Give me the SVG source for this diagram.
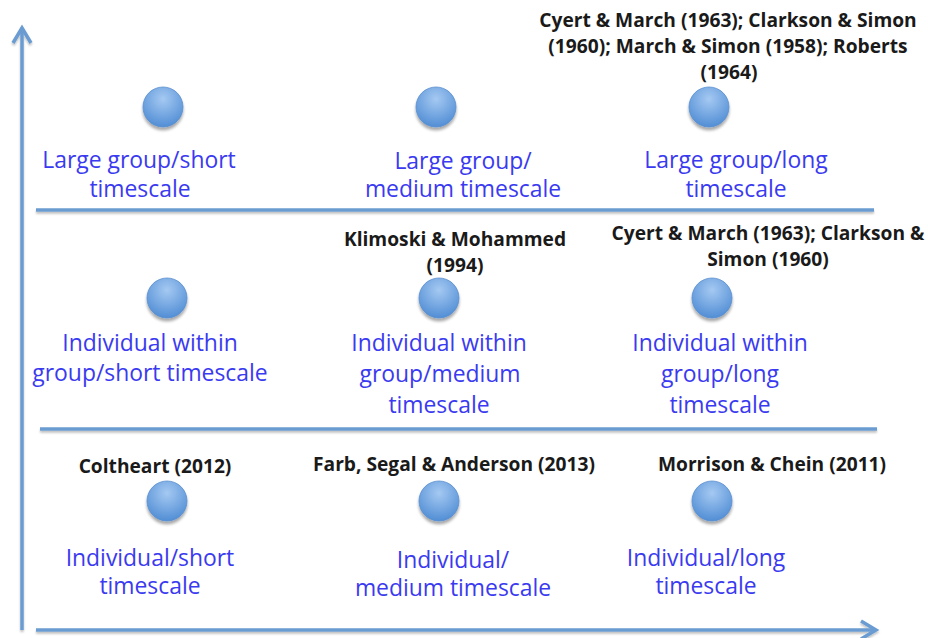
<svg xmlns="http://www.w3.org/2000/svg" width="928" height="638" viewBox="0 0 928 638">
<defs>
<radialGradient id="ball" cx="0.5" cy="0.3" r="0.75">
<stop offset="0" stop-color="#a5c9f2"/>
<stop offset="1" stop-color="#4c8ad3"/>
</radialGradient>
<filter id="sh" x="-30%" y="-30%" width="160%" height="170%">
<feGaussianBlur in="SourceAlpha" stdDeviation="1.6"/>
<feOffset dy="2.5" result="b"/>
<feComponentTransfer><feFuncA type="linear" slope="0.35"/></feComponentTransfer>
<feMerge><feMergeNode/><feMergeNode in="SourceGraphic"/></feMerge>
</filter>
<filter id="lsh" x="-5%" y="-100%" width="110%" height="400%">
<feGaussianBlur in="SourceAlpha" stdDeviation="1"/>
<feOffset dy="1.5"/>
<feComponentTransfer><feFuncA type="linear" slope="0.25"/></feComponentTransfer>
<feMerge><feMergeNode/><feMergeNode in="SourceGraphic"/></feMerge>
</filter>
</defs>
<style>
.ax{stroke:#6b9cd2;stroke-width:3.5;fill:none;stroke-linecap:butt}
.ball{fill:url(#ball);stroke:#5b8fcf;stroke-width:0.8}
.lab{font-family:"Open Sans","Noto Sans",sans-serif;font-size:22.9px;fill:#3a3af0;text-anchor:middle}
.cit{font-family:"Open Sans","Noto Sans",sans-serif;font-size:19.2px;font-weight:bold;fill:#1a1a1a;text-anchor:middle}
</style>
<g id="connectors" filter="url(#lsh)">
<line class="ax" x1="22" y1="630" x2="22" y2="29"/>
<polyline class="ax" points="13,43 22,28 31,43"/>
<line class="ax" x1="36" y1="630" x2="876" y2="630"/>
<polyline class="ax" points="861,621 876,630 861,639"/>
<line class="ax" x1="36" y1="210" x2="874" y2="210"/>
<line class="ax" x1="40" y1="429" x2="877" y2="429"/>
</g>
<g id="n1"><circle class="ball" cx="163" cy="107" r="20" filter="url(#sh)"/>
<text class="lab" x="139" y="168">Large group/short</text><text class="lab" x="140" y="197">timescale</text></g>
<g id="n2"><circle class="ball" cx="436" cy="107" r="20" filter="url(#sh)"/>
<text class="lab" x="463" y="169">Large group/</text><text class="lab" x="463" y="197">medium timescale</text></g>
<g id="n3"><circle class="ball" cx="709" cy="107" r="20" filter="url(#sh)"/>
<text class="cit" x="728" y="27">Cyert &amp; March (1963); Clarkson &amp; Simon</text>
<text class="cit" x="728" y="53">(1960); March &amp; Simon (1958); Roberts</text>
<text class="cit" x="729" y="79">(1964)</text>
<text class="lab" x="736" y="168">Large group/long</text><text class="lab" x="736" y="197">timescale</text></g>
<g id="n4"><circle class="ball" cx="167" cy="298" r="20" filter="url(#sh)"/>
<text class="lab" x="150" y="351">Individual within</text><text class="lab" x="150" y="381">group/short timescale</text></g>
<g id="n5"><circle class="ball" cx="439" cy="298" r="20" filter="url(#sh)"/>
<text class="cit" x="455" y="246">Klimoski &amp; Mohammed</text>
<text class="cit" x="455" y="272">(1994)</text>
<text class="lab" x="439" y="351">Individual within</text><text class="lab" x="440" y="382">group/medium</text><text class="lab" x="439" y="413">timescale</text></g>
<g id="n6"><circle class="ball" cx="712" cy="298" r="20" filter="url(#sh)"/>
<text class="cit" x="768" y="240">Cyert &amp; March (1963); Clarkson &amp;</text>
<text class="cit" x="768" y="266">Simon (1960)</text>
<text class="lab" x="720" y="351">Individual within</text><text class="lab" x="720" y="382">group/long</text><text class="lab" x="720" y="413">timescale</text></g>
<g id="n7"><circle class="ball" cx="167" cy="501" r="20" filter="url(#sh)"/>
<text class="cit" x="155" y="473">Coltheart (2012)</text>
<text class="lab" x="150" y="566">Individual/short</text><text class="lab" x="150" y="594">timescale</text></g>
<g id="n8"><circle class="ball" cx="439" cy="501" r="20" filter="url(#sh)"/>
<text class="cit" x="454" y="471">Farb, Segal &amp; Anderson (2013)</text>
<text class="lab" x="453" y="568">Individual/</text><text class="lab" x="453" y="596">medium timescale</text></g>
<g id="n9"><circle class="ball" cx="712" cy="501" r="20" filter="url(#sh)"/>
<text class="cit" x="772" y="471">Morrison &amp; Chein (2011)</text>
<text class="lab" x="706" y="566">Individual/long</text><text class="lab" x="706" y="594">timescale</text></g>
</svg>
